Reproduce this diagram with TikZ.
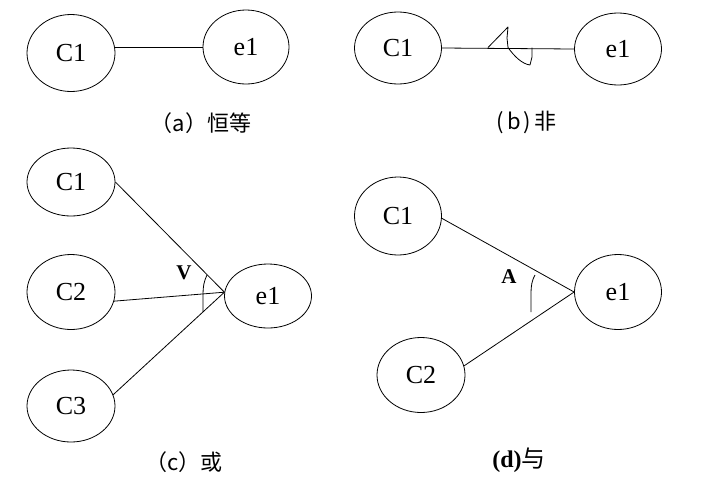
\documentclass[tikz,border=0pt]{standalone}
\usepackage{fontspec}
\setmainfont{Liberation Serif}
\newfontfamily\cjk{Noto Sans CJK SC}
\usetikzlibrary{shapes.geometric}
\begin{document}
\begin{tikzpicture}[x=1pt,y=-1pt,
  ell/.style={draw, ellipse, inner sep=0pt, line width=0.8pt, font=\fontsize{26}{26}\selectfont},
  link/.style={draw, line width=0.8pt},
  captext/.style={inner sep=0pt, font=\fontsize{22}{22}\selectfont},
  gate/.style={inner sep=0pt, font=\bfseries\fontsize{21}{21}\selectfont}]
\useasboundingbox[fill=white] (0,0) rectangle (722,480);

% (a)
\node[ell, minimum width=88pt, minimum height=77pt] (aC1) at (71,53) {C1};
\node[ell, minimum width=86pt, minimum height=74pt] (ae1) at (246,47) {e1};
\draw[link] (ae1.west) -- (ae1.west -| aC1.east);
\node[captext] (acap) at (201,123) {\cjk （a）恒等};

% (b)
\node[ell, minimum width=87pt, minimum height=72pt] (bC1) at (398,48) {C1};
\node[ell, minimum width=87pt, minimum height=72pt] (be1) at (618,49) {e1};
\draw[link] (bC1.east) -- (be1.west);
\draw[link, line join=round] (488,47.5) -- (508,27) -- (507,38) -- (508,47.5)
  .. controls (514,56) and (522,64) .. (530,65) -- (532,57) -- (532,47.5);
\node[captext] (bcap) at (525,122) {\cjk \makebox[0.6em]{(}b\makebox[0.6em]{)}非};

% (c)
\node[ell, minimum width=88pt, minimum height=68pt] (cC1) at (71,182) {C1};
\node[ell, minimum width=88pt, minimum height=75pt] (cC2) at (71,292) {C2};
\node[ell, minimum width=88pt, minimum height=72pt] (cC3) at (71,406) {C3};
\node[ell, minimum width=87pt, minimum height=64pt] (ce1) at (268,296) {e1};
\coordinate (cj) at (ce1.175);
\draw[link] (cC1.east) -- (cj);
\draw[link] (cC2.-12) -- (cj);
\draw[link] (cC3.15) -- (cj);
\draw[link] (207,275) .. controls (204,281) and (203,287) .. (203,294) -- (203,312);
\node[gate] (cV) at (184,273) {V};
\node[captext] (ccap) at (184,462) {\cjk （c）或};

% (d)
\node[ell, minimum width=87pt, minimum height=78pt] (dC1) at (398,216) {C1};
\node[ell, minimum width=87pt, minimum height=75pt] (de1) at (618,292) {e1};
\node[ell, minimum width=88pt, minimum height=75pt] (dC2) at (421,375) {C2};
\coordinate (dj) at (de1.west);
\draw[link] (dC1.-3) -- (dj);
\draw[link] (dC2.12) -- (dj);
\draw[link] (535,275) .. controls (532,280) and (531,286) .. (531,293) -- (531,312);
\node[gate] (dA) at (509,277) {A};
\node[captext, font=\fontsize{24}{24}\selectfont] (dcap) at (519,460) {\bfseries (d)\cjk\mdseries 与};
\end{tikzpicture}
\end{document}
